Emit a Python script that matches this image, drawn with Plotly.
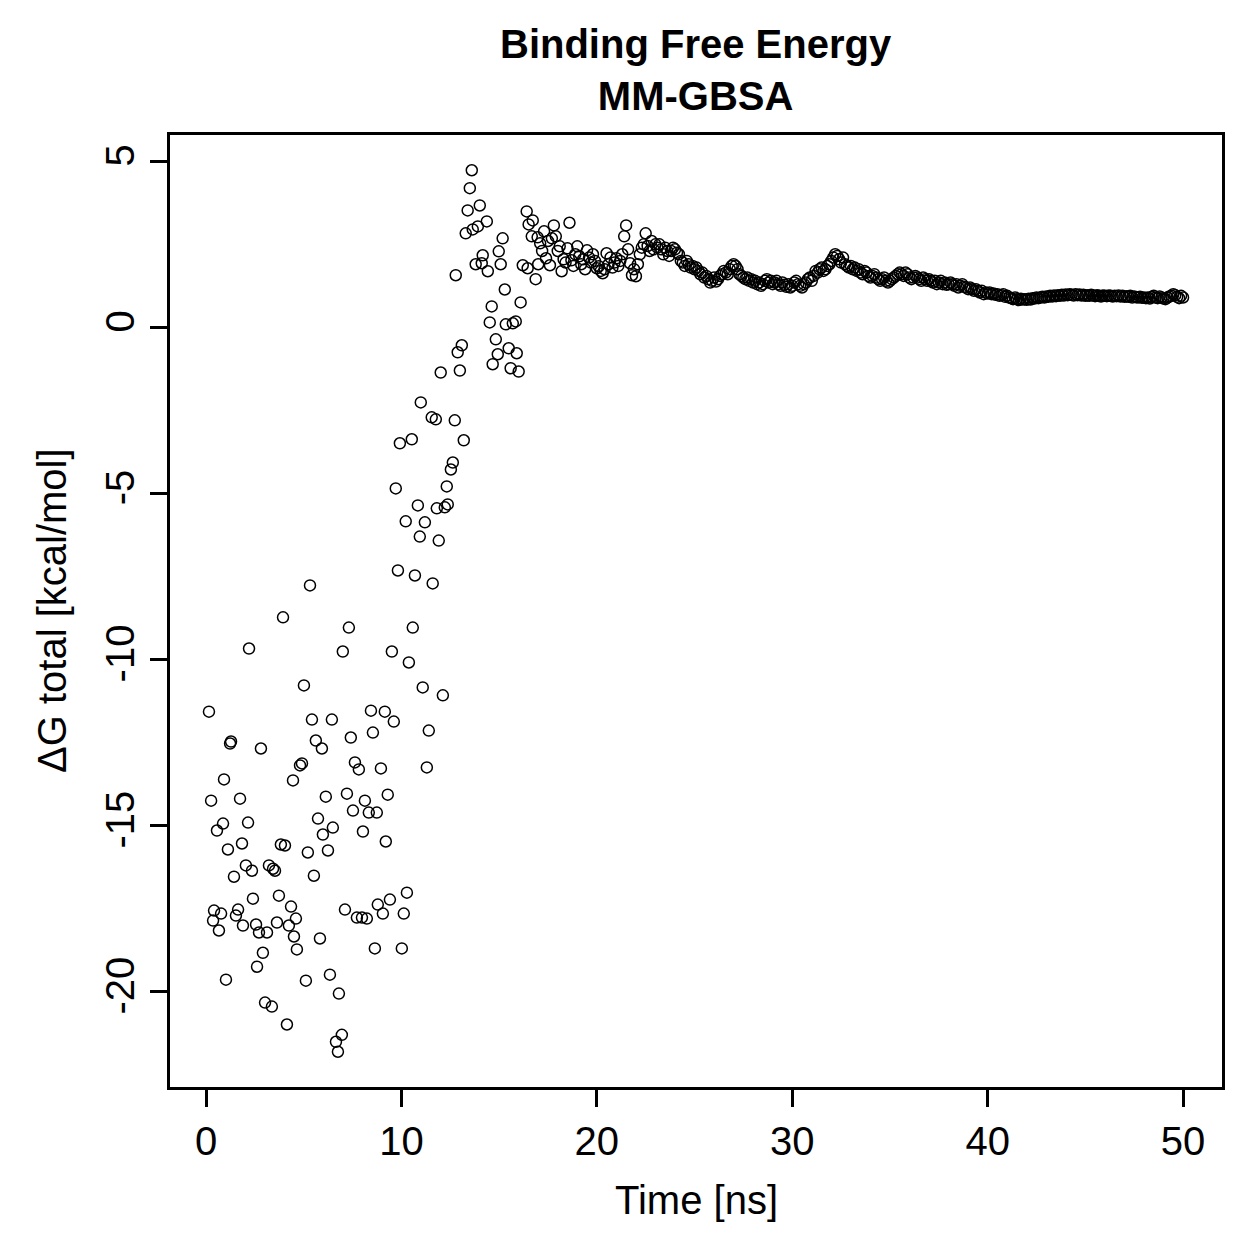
import numpy as np
import plotly.graph_objects as go

# ---- Data ----
# Early, scattered part of the trajectory (time in ns, dG in kcal/mol)
time_early = [
    0.15, 0.26, 0.36, 0.41, 0.56, 0.66, 0.77, 0.87, 0.92, 1.02,
    1.12, 1.23, 1.28, 1.43, 1.53, 1.64, 1.74, 1.84, 1.89, 2.04,
    2.15, 2.20, 2.35, 2.40, 2.56, 2.61, 2.71, 2.81, 2.91, 3.02,
    3.12, 3.22, 3.37, 3.43, 3.53, 3.63, 3.73, 3.83, 3.94, 4.04,
    4.14, 4.24, 4.35, 4.45, 4.50, 4.60, 4.65, 4.81, 4.91, 5.01,
    5.11, 5.21, 5.32, 5.42, 5.52, 5.62, 5.73, 5.83, 5.93, 5.98,
    6.13, 6.24, 6.34, 6.44, 6.49, 6.65, 6.75, 6.80, 6.95, 7.00,
    7.11, 7.21, 7.31, 7.41, 7.52, 7.62, 7.72, 7.82, 7.98, 8.03,
    8.13, 8.23, 8.33, 8.44, 8.54, 8.64, 8.74, 8.79, 8.95, 9.05,
    9.15, 9.20, 9.30, 9.41, 9.51, 9.61, 9.71, 9.82, 9.92, 10.02,
    10.12, 10.22, 10.28, 10.38, 10.53, 10.58, 10.69, 10.84, 10.94, 10.99,
    11.09, 11.20, 11.30, 11.40, 11.55, 11.60, 11.76, 11.81, 11.91, 12.01,
    12.12, 12.22, 12.37, 12.32, 12.53, 12.63, 12.73, 12.78, 12.88, 12.99,
    13.09, 13.19, 13.29, 13.39, 13.50, 13.60, 13.65, 13.80, 13.91, 14.01,
    14.11, 14.16, 14.37, 14.42, 14.52, 14.62, 14.67, 14.83, 14.93, 14.98,
    15.08, 15.18, 15.29, 15.34, 15.49, 15.59, 15.70, 15.85, 15.90, 16.00,
    16.10, 16.21, 16.41, 16.46, 16.51, 16.72, 16.67, 16.87, 16.97, 17.00,
]
dg_early = [
    -11.57, -14.25, -17.86, -17.56, -15.15, -18.16, -17.65, -14.94, -13.61, -19.64,
    -15.72, -12.53, -12.47, -16.54, -17.71, -17.53, -14.19, -15.54, -18.01, -16.20,
    -14.91, -9.67, -16.36, -17.20, -17.98, -19.25, -18.22, -12.68, -18.83, -20.33,
    -18.22, -16.20, -20.45, -16.30, -16.36, -17.92, -17.11, -15.57, -8.73, -15.60,
    -20.99, -18.01, -17.44, -13.64, -18.34, -17.80, -18.73, -13.19, -13.13, -10.78,
    -19.67, -15.81, -7.77, -11.81, -16.51, -12.44, -14.79, -18.40, -12.68, -15.27,
    -14.13, -15.75, -19.49, -11.81, -15.06, -21.51, -21.81, -20.06, -21.30, -9.76,
    -17.53, -14.04, -9.04, -12.35, -14.55, -13.10, -17.77, -13.31, -17.77, -15.18,
    -14.25, -17.80, -14.61, -11.54, -12.20, -18.70, -14.61, -17.38, -13.28, -17.65,
    -11.57, -15.48, -14.07, -17.23, -9.76, -11.87, -4.85, -7.32, -3.49, -18.70,
    -17.65, -5.84, -17.02, -10.09, -3.37, -9.04, -7.47, -5.36, -6.30, -2.26,
    -10.84, -5.87, -13.25, -12.14, -2.71, -7.71, -2.77, -5.45, -6.42, -1.36,
    -11.08, -5.42, -5.33, -4.79, -4.28, -4.07, -2.80, 1.57, -0.75, -1.30,
    -0.54, -3.40, 2.83, 3.52, 4.19, 4.73, 2.95, 1.90, 3.04, 3.67,
    1.93, 2.17, 3.19, 1.69, 0.15, 0.63, -1.11, -0.36, -0.81, 2.29,
    1.90, 2.68, 1.14, 0.09, -0.63, -1.23, 0.12, 0.18, -0.78, -1.33,
    0.75, 1.87, 3.49, 1.78, 3.10, 3.22, 2.74, 1.45, 2.71, 1.90,
]

# Later, converged part: one value every 0.1 ns from 17.1 to 50.0 ns
time_late = np.round(np.arange(171, 501) * 0.1, 1)
dg_late = [
    2.53, 2.30, 2.89, 2.08, 2.60, 1.87, 2.68, 3.07, 2.74, 2.30,   # 17.1-18.0
    2.44, 1.69, 2.05, 1.95, 2.38, 3.15, 2.02, 1.85, 2.20, 2.44,   # 18.1-19.0
    2.14, 1.90, 2.05, 1.75, 2.32, 2.10, 1.95, 2.20, 2.00, 1.78,   # 19.1-20.0
    1.84, 1.70, 1.63, 1.75, 2.23, 1.90, 2.10, 1.80, 1.95, 2.08,   # 20.1-21.0
    1.85, 2.00, 2.20, 2.74, 3.07, 2.35, 1.93, 1.57, 1.75, 1.54,   # 21.1-22.0
    1.90, 2.20, 2.40, 2.50, 2.83, 2.45, 2.30, 2.60, 2.35, 2.50,   # 22.1-23.0
    2.40, 2.50, 2.35, 2.20, 2.40, 2.30, 2.15, 2.30, 2.40, 2.35,   # 23.1-24.0
    2.25, 2.20, 2.00, 1.95, 1.85, 2.00, 1.90, 1.80, 1.85, 1.75,   # 24.1-25.0
    1.80, 1.70, 1.60, 1.65, 1.50, 1.55, 1.45, 1.35, 1.40, 1.50,   # 25.1-26.0
    1.38, 1.45, 1.55, 1.60, 1.70, 1.65, 1.60, 1.75, 1.85, 1.90,   # 26.1-27.0
    1.85, 1.75, 1.60, 1.55, 1.50, 1.45, 1.50, 1.40, 1.45, 1.35,   # 27.1-28.0
    1.40, 1.30, 1.35, 1.25, 1.30, 1.40, 1.45, 1.35, 1.40, 1.30,   # 28.1-29.0
    1.35, 1.40, 1.30, 1.25, 1.35, 1.28, 1.22, 1.30, 1.20, 1.25,   # 29.1-30.0
    1.35, 1.40, 1.30, 1.25, 1.20, 1.30, 1.35, 1.45, 1.50, 1.40,   # 30.1-31.0
    1.55, 1.70, 1.65, 1.75, 1.80, 1.70, 1.75, 1.85, 1.90, 2.00,   # 31.1-32.0
    2.10, 2.20, 2.15, 2.05, 1.95, 2.10, 1.90, 1.85, 1.80, 1.85,   # 32.1-33.0
    1.75, 1.80, 1.70, 1.75, 1.65, 1.60, 1.70, 1.65, 1.55, 1.50,   # 33.1-34.0
    1.55, 1.60, 1.50, 1.45, 1.40, 1.45, 1.50, 1.40, 1.35, 1.40,   # 34.1-35.0
    1.45, 1.50, 1.55, 1.60, 1.65, 1.60, 1.55, 1.65, 1.60, 1.50,   # 35.1-36.0
    1.45, 1.50, 1.55, 1.50, 1.45, 1.40, 1.50, 1.45, 1.40, 1.45,   # 36.1-37.0
    1.40, 1.35, 1.40, 1.30, 1.35, 1.40, 1.30, 1.35, 1.28, 1.30,   # 37.1-38.0
    1.35, 1.30, 1.25, 1.30, 1.20, 1.25, 1.30, 1.22, 1.20, 1.15,   # 38.1-39.0
    1.20, 1.15, 1.10, 1.15, 1.10, 1.05, 1.10, 1.00, 1.05, 1.02,   # 39.1-40.0
    1.05, 1.00, 1.02, 0.98, 1.00, 0.95, 0.97, 1.00, 0.92, 0.95,   # 40.1-41.0
    0.90, 0.88, 0.85, 0.90, 0.85, 0.82, 0.86, 0.84, 0.85, 0.83,   # 41.1-42.0
    0.86, 0.84, 0.88, 0.87, 0.90, 0.88, 0.90, 0.92, 0.90, 0.93,   # 42.1-43.0
    0.92, 0.95, 0.93, 0.96, 0.94, 0.97, 0.95, 0.98, 0.96, 0.99,   # 43.1-44.0
    0.97, 1.00, 0.98, 0.96, 1.00, 0.97, 0.99, 0.96, 0.98, 0.95,   # 44.1-45.0
    0.97, 0.95, 0.98, 0.96, 0.94, 0.97, 0.95, 0.93, 0.96, 0.95,   # 45.1-46.0
    0.94, 0.96, 0.95, 0.93, 0.95, 0.94, 0.96, 0.93, 0.95, 0.92,   # 46.1-47.0
    0.94, 0.92, 0.95, 0.90, 0.93, 0.91, 0.90, 0.92, 0.89, 0.90,   # 47.1-48.0
    0.88, 0.90, 0.87, 0.92, 0.95, 0.90, 0.88, 0.93, 0.90, 0.87,   # 48.1-49.0
    0.85, 0.90, 0.93, 0.95, 1.00, 0.97, 0.92, 0.88, 0.95, 0.90,   # 49.1-50.0
]

x_ticks = [0, 10, 20, 30, 40, 50]
y_ticks = [-20, -15, -10, -5, 0, 5]

title_lines = ["Binding Free Energy", "MM-GBSA"]
x_label = "Time [ns]"
y_label = "ΔG total [kcal/mol]"

# ---- Build figure ----
x = list(time_early) + list(time_late)
y = list(dg_early) + list(dg_late)


def r_range(v):
    lo, hi = min(v), max(v)
    ext = 0.04 * (hi - lo)
    return [lo - ext, hi + ext]


FONT = "Liberation Sans, Arial, Helvetica, sans-serif"

fig = go.Figure()
fig.add_trace(go.Scatter(
    x=x, y=y, mode="markers",
    marker=dict(symbol="circle-open", size=11, color="black",
                line=dict(color="black", width=1.5)),
    showlegend=False, hoverinfo="x+y",
))

axis_common = dict(
    showgrid=False, zeroline=False,
    showline=True, mirror=True, linecolor="black", linewidth=2.5,
    ticks="outside", ticklen=17, tickwidth=2.5, tickcolor="black",
    tickfont=dict(family=FONT, size=40, color="black"),
)

fig.update_layout(
    width=1259, height=1259,
    margin=dict(l=170, r=37, t=135, b=172),
    paper_bgcolor="white", plot_bgcolor="white",
    font=dict(family=FONT, color="black"),
    xaxis=dict(range=r_range(x), tickmode="array", tickvals=x_ticks,
               ticktext=[str(t) for t in x_ticks], **axis_common),
    yaxis=dict(range=r_range(y), tickmode="array", tickvals=y_ticks,
               ticktext=[str(t) for t in y_ticks], tickangle=-90, **axis_common),
)

fig.add_annotation(
    text="<b>" + title_lines[0] + "</b><br><b>" + title_lines[1] + "</b>",
    xref="paper", yref="paper", x=0.5, y=1, yshift=135 - 20,
    xanchor="center", yanchor="top", showarrow=False,
    font=dict(family=FONT, size=40, color="black"),
)
fig.add_annotation(
    text=x_label, xref="paper", yref="paper", x=0.5, y=0, yshift=-113,
    xanchor="center", yanchor="middle", showarrow=False,
    font=dict(family=FONT, size=40, color="black"),
)
fig.add_annotation(
    text=y_label, xref="paper", yref="paper", x=0, y=0.5, xshift=-118,
    xanchor="center", yanchor="middle", textangle=-90, showarrow=False,
    font=dict(family=FONT, size=40, color="black"),
)

fig.write_html("out.html")
